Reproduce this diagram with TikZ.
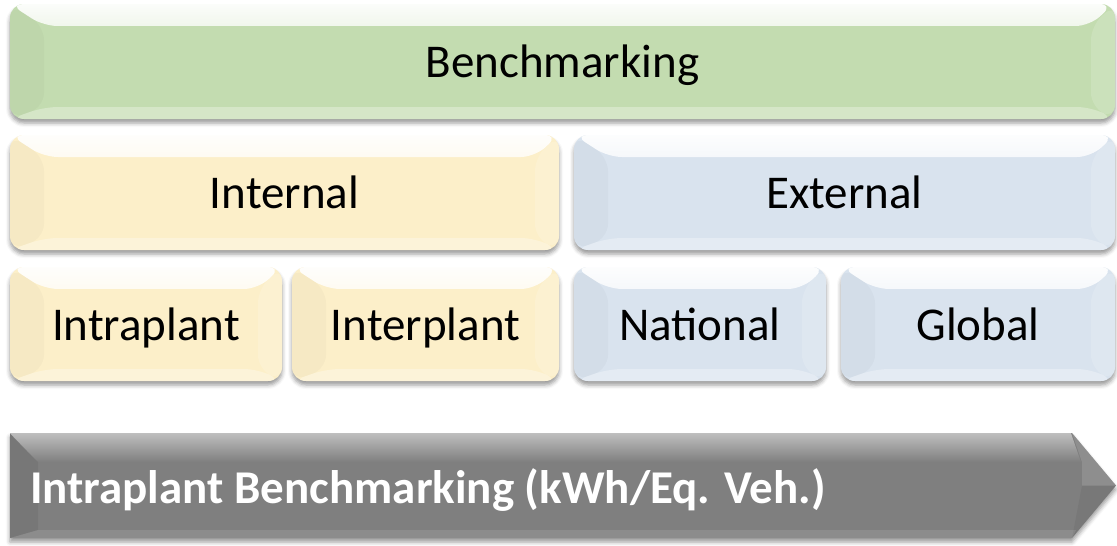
\documentclass[tikz,border=0pt]{standalone}
\usepackage{fontspec}
\setmainfont{Carlito}
\usetikzlibrary{calc,shadows.blur,fadings}
\definecolor{bgreen}{HTML}{C3DCB0}
\definecolor{byellow}{HTML}{FCEFC9}
\definecolor{bblue}{HTML}{D9E3EE}
\definecolor{bgray}{HTML}{7F7F7F}
\tikzfading[name=fadetop, top color=transparent!0, bottom color=transparent!100]
\newcommand\bevelpanels{%
 \fill[white,path fading=fadetop,opacity=.95] let \p1=(path picture bounding box.north west),\p2=(path picture bounding box.south east) in
   (\x1,\y1)--(\x2,\y1)--(\x2-24pt,\y1-22pt)--(\x1+34pt,\y1-22pt)--cycle;
 \fill[black,opacity=.025] let \p1=(path picture bounding box.north west),\p2=(path picture bounding box.south east) in
   (\x1,\y1)--(\x1+34pt,\y1-22pt)--(\x1+34pt,\y2+12pt)--(\x1,\y2)--cycle;
 \fill[white,opacity=.15] let \p1=(path picture bounding box.north west),\p2=(path picture bounding box.south east) in
   (\x2,\y1)--(\x2,\y2)--(\x2-24pt,\y2+12pt)--(\x2-24pt,\y1-22pt)--cycle;
 \fill[white,opacity=.3] let \p1=(path picture bounding box.north west),\p2=(path picture bounding box.south east) in
   (\x1,\y2)--(\x1+34pt,\y2+12pt)--(\x2-24pt,\y2+12pt)--(\x2,\y2)--cycle;
}
\tikzset{
 bevelbox/.style={rectangle, rounded corners=14pt, fill=#1, inner sep=0pt,
   text height=36pt, text depth=4pt,
   blur shadow={shadow xshift=0pt, shadow yshift=-4pt, shadow blur radius=4pt, shadow opacity=40},
   font=\fontsize{47}{56}\selectfont, text=black,
   path picture={\bevelpanels}},
}
\begin{document}
\begin{tikzpicture}[x=1pt,y=-1pt]
\useasboundingbox (0,0) rectangle (1117,546);
\node[bevelbox=bgreen, minimum width=1105pt, minimum height=115pt] (bench) at (562.5,61.5) {Benchmarking};
\node[bevelbox=byellow, minimum width=549pt, minimum height=115pt] (internal) at (284.5,192.5) {Internal};
\node[bevelbox=bblue, minimum width=541pt, minimum height=115pt] (external) at (844.5,192.5) {External};
\node[bevelbox=byellow, minimum width=272pt, minimum height=114pt] (intra) at (146,324) {Intraplant};
\node[bevelbox=byellow, minimum width=267pt, minimum height=114pt] (inter) at (425.5,324) {Interplant};
\node[bevelbox=bblue, minimum width=252pt, minimum height=114pt] (national) at (700,324) {National};
\node[bevelbox=bblue, minimum width=274pt, minimum height=114pt] (global) at (978,324) {Global};
% arrow
\fill[bgray, blur shadow={shadow xshift=0pt, shadow yshift=-4pt, shadow blur radius=4pt, shadow opacity=40}]
  (10,433) -- (1072,433) -- (1116,485.5) -- (1072,538) -- (10,538) -- cycle;
\fill[white,path fading=fadetop,opacity=.5] (10,433) -- (1072,433) -- (1082,462) -- (38,462) -- cycle;
\fill[black,opacity=.06] (10,433) -- (38,462) -- (38,530) -- (10,538) -- cycle;
\fill[white,opacity=.12] (1072,433) -- (1116,485.5) -- (1082,485.5) -- (1082,462) -- cycle;
\fill[black,opacity=.05] (1116,485.5) -- (1072,538) -- (1082,485.5) -- cycle;
\fill[white,opacity=.1] (10,538) -- (38,530) -- (1076,530) -- (1072,538) -- cycle;
\node[anchor=base west, inner sep=0pt, text=white, font=\fontsize{47}{56}\bfseries\selectfont] (arrowtext) at (30,503) {Intraplant Benchmarking (kWh/Eq. Veh.)};
\end{tikzpicture}
\end{document}
